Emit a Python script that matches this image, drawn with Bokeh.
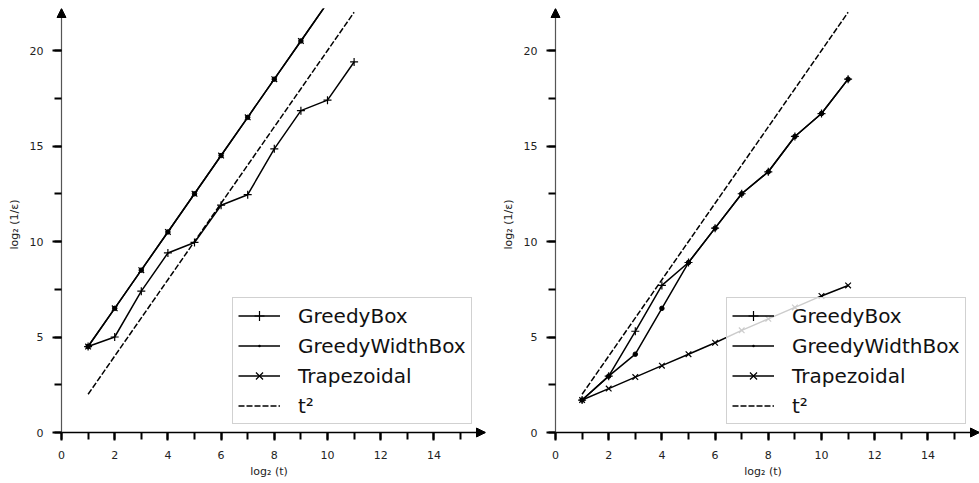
from bokeh.plotting import figure
from bokeh.layouts import row
from bokeh.models import (Range1d, SingleIntervalTicker, Arrow, NormalHead, Legend, LegendItem,
                          LinearAxis, CustomJSTickFormatter)
from bokeh.embed import file_html
from bokeh.resources import INLINE

# ---- data ----
log2_t = [1, 2, 3, 4, 5, 6, 7, 8, 9, 10, 11]
t_squared = [2, 4, 6, 8, 10, 12, 14, 16, 18, 20, 22]

left_greedy_box = [4.5, 5.0, 7.4, 9.4, 9.95, 11.9, 12.45, 14.85, 16.85, 17.4, 19.4]
left_greedy_width_box = [4.5, 6.5, 8.5, 10.5, 12.5, 14.5, 16.5, 18.5, 20.5, 22.5, 24.5]
left_trapezoidal = [4.5, 6.5, 8.5, 10.5, 12.5, 14.5, 16.5, 18.5, 20.5, 22.5, 24.5]

right_greedy_box = [1.7, 2.95, 5.3, 7.7, 8.9, 10.7, 12.5, 13.65, 15.5, 16.7, 18.5]
right_greedy_width_box = [1.7, 2.95, 4.1, 6.5, 8.9, 10.7, 12.5, 13.65, 15.5, 16.7, 18.5]
right_trapezoidal = [1.7, 2.3, 2.9, 3.5, 4.1, 4.7, 5.35, 5.95, 6.55, 7.15, 7.7]

series_names = ["GreedyBox", "GreedyWidthBox", "Trapezoidal", "t²"]
x_ticks_interval = 2
y_ticks_interval = 5

# ---- layout (pixels) ----
SX = 26.6      # px per unit on x
SY = 19.1      # px per unit on y
PAD_X = 9      # frame padding left of x=0
PAD_Y = 8      # frame padding below y=0
FRAME_W = 433
FRAME_H = 432
X_START = -PAD_X / SX
X_END = (FRAME_W - PAD_X) / SX
Y_START = -PAD_Y / SY
Y_END = (FRAME_H - PAD_Y) / SY
FONT = "DejaVu Sans"


def make_panel(gb, gwb, trap, width, border_left, border_right):
    p = figure(width=width, height=483, output_backend="svg", toolbar_location=None,
               x_range=Range1d(X_START, X_END), y_range=Range1d(Y_START, Y_END),
               min_border_left=border_left, min_border_right=border_right,
               min_border_top=8, min_border_bottom=483 - 8 - FRAME_H)
    p.outline_line_color = None
    p.grid.visible = False
    p.background_fill_color = "white"
    p.border_fill_color = "white"

    items = []
    r1 = p.line(log2_t, gb, line_color="black", line_width=1.5)
    s1 = p.scatter(log2_t, gb, marker="cross", size=8, line_color="black", line_width=1.2)
    items.append(LegendItem(label=series_names[0], renderers=[r1, s1]))
    r2 = p.line(log2_t, gwb, line_color="black", line_width=1.5)
    p.scatter(log2_t, gwb, marker="circle", size=4.5, fill_color="black", line_color="black")
    s2 = p.scatter(log2_t, gwb, marker="dot", size=6, fill_color="black",
                   line_color="black", line_width=3)
    items.append(LegendItem(label=series_names[1], renderers=[r2, s2]))
    r3 = p.line(log2_t, trap, line_color="black", line_width=1.5)
    s3 = p.scatter(log2_t, trap, marker="x", size=8, line_color="black", line_width=1.2)
    items.append(LegendItem(label=series_names[2], renderers=[r3, s3]))
    r4 = p.line(log2_t, t_squared, line_color="black", line_width=1.5, line_dash="6 2")
    items.append(LegendItem(label=series_names[3], renderers=[r4]))

    legend = Legend(items=items, location=(180, 16),
                    label_text_font=FONT, label_text_font_size="20px",
                    label_text_color="#111111",
                    glyph_width=42, glyph_height=25, label_height=25,
                    label_standoff=18, spacing=5, padding=5,
                    background_fill_color="white", background_fill_alpha=0.8,
                    border_line_color="#cccccc", border_line_alpha=0.9)
    p.add_layout(legend)

    # label axes (at frame edges): only tick labels and axis titles
    p.xaxis.ticker = SingleIntervalTicker(interval=x_ticks_interval, num_minor_ticks=2)
    p.yaxis.ticker = SingleIntervalTicker(interval=y_ticks_interval, num_minor_ticks=2)
    p.xaxis.axis_label = "log₂ (t)"
    p.yaxis.axis_label = "log₂ (1/ε)"
    for ax in (p.xaxis[0], p.yaxis[0]):
        ax.axis_line_color = None
        ax.major_tick_line_color = None
        ax.minor_tick_line_color = None
        ax.major_tick_out = 0
        ax.major_tick_in = 0
        ax.minor_tick_out = 0
        ax.minor_tick_in = 0
        ax.major_label_text_font = FONT
        ax.major_label_text_font_size = "11px"
        ax.major_label_text_color = "#222222"
        ax.axis_label_text_font = FONT
        ax.axis_label_text_font_size = "11px"
        ax.axis_label_text_font_style = "normal"
        ax.axis_label_text_color = "#222222"
    p.xaxis.major_label_standoff = 10
    p.xaxis.axis_label_standoff = 3
    p.yaxis.major_label_standoff = 9
    p.yaxis.axis_label_standoff = 6

    # spine axes at the origin: line and ticks only
    blank = CustomJSTickFormatter(code="return ''")
    xspine = LinearAxis(fixed_location=0, bounds=(0, X_END), formatter=blank,
                        ticker=SingleIntervalTicker(interval=x_ticks_interval, num_minor_ticks=2),
                        axis_line_color="black", axis_line_width=1.5)
    yspine = LinearAxis(fixed_location=0, bounds=(0, Y_END), formatter=blank,
                        ticker=SingleIntervalTicker(interval=y_ticks_interval, num_minor_ticks=2),
                        axis_line_color="#555555", axis_line_width=1.2)
    for ax in (xspine, yspine):
        ax.major_tick_out = 11
        ax.major_tick_in = 0
        ax.minor_tick_out = 7
        ax.minor_tick_in = 0
        ax.major_tick_line_width = 2
        ax.minor_tick_line_width = 2
        ax.major_tick_line_color = "black"
        ax.minor_tick_line_color = "black"
        ax.major_label_text_font_size = "0px"
    p.add_layout(xspine, "below")
    p.add_layout(yspine, "left")

    p.add_layout(Arrow(x_start=0, y_start=0, x_end=0, y_end=Y_END, line_alpha=0,
                       end=NormalHead(size=9, fill_color="black", line_color="black")))
    p.add_layout(Arrow(x_start=0, y_start=0, x_end=X_END, y_end=0, line_alpha=0,
                       end=NormalHead(size=9, fill_color="black", line_color="black")))
    return p


# left panel: x=0 at page x 61, right panel: x=0 at page x 555
p1 = make_panel(left_greedy_box, left_greedy_width_box, left_trapezoidal, 490, 52, 5)
p2 = make_panel(right_greedy_box, right_greedy_width_box, right_trapezoidal, 489, 56, 0)

layout = row(p1, p2)
open("out.html", "w").write(file_html(layout, INLINE))
